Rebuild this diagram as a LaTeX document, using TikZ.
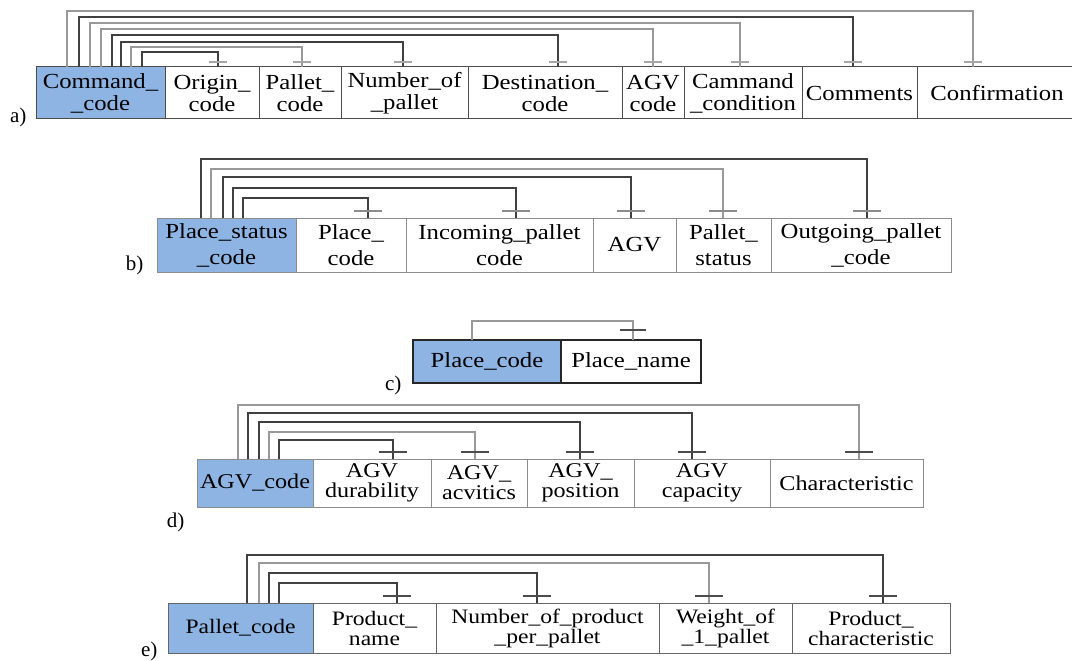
\documentclass[tikz,border=0pt]{standalone}
\usepackage{fontspec}
\setmainfont{Liberation Serif}
\newfontfamily\fieldfont[FakeStretch=1.15]{Liberation Serif}
\usetikzlibrary{positioning}
\definecolor{keyblue}{RGB}{141,180,227}
\begin{document}
\begin{tikzpicture}[x=1pt, y=-1pt,
	fld/.style = {draw=black!70, line width=1pt, inner sep=0pt, outer sep=0pt, align=center},
	key/.style = {fld, fill=keyblue},
	rowa/.style = {minimum height=52, font=\fieldfont\fontsize{21.5}{22}\selectfont},
	rowb/.style = {minimum height=54, font=\fieldfont\fontsize{21.5}{26}\selectfont, draw=black!45},
	rowc/.style = {minimum height=43, font=\fieldfont\fontsize{21.5}{22}\selectfont, draw=black!85, line width=1.6pt},
	rowd/.style = {minimum height=48, font=\fieldfont\fontsize{21}{20}\selectfont, draw=black!45},
	rowe/.style = {minimum height=50, font=\fieldfont\fontsize{20.5}{20}\selectfont, draw=black!60},
	dk/.style = {black!75, line width=1.4pt},
	lt/.style = {black!40, line width=1.4pt},
	tk/.style = {black!70, line width=1.2pt},
	lbl/.style = {anchor=base east, font=\fontsize{21}{21}\selectfont}]
	\useasboundingbox (0,0) rectangle (1072,661);

	% a) command table
	\node[key, rowa, minimum width=129, anchor=north west] (a0) at (36,67) {Command\_\\\_code};
	\node[fld, rowa, minimum width=94, right=0pt of a0] (a1) {Origin\_\\code};
	\node[fld, rowa, minimum width=82, right=0pt of a1] (a2) {Pallet\_\\code};
	\node[fld, rowa, minimum width=127, right=0pt of a2] (a3) {Number\_of\\\_pallet};
	\node[fld, rowa, minimum width=154, right=0pt of a3] (a4) {Destination\_\\code};
	\node[fld, rowa, minimum width=62, right=0pt of a4] (a5) {AGV\\code};
	\node[fld, rowa, minimum width=118, right=0pt of a5] (a6) {Cammand\\\_condition};
	\node[fld, rowa, minimum width=115, right=0pt of a6] (a7) {Comments};
	\node[fld, rowa, minimum width=160, right=0pt of a7] (a8) {Confirmation};
	\foreach \sx/\ly/\ex/\f/\s in {142/52/218/a1/dk, 131/47/302/a2/lt, 121/42/403/a3/dk, 112/35/558/a4/dk,
		101/29/653/a5/lt, 90/23/740/a6/lt, 79/17/853/a7/dk, 67/11/973/a8/lt}{
		\draw[\s] (\sx,0 |- a0.north) |- (\ex,\ly) -- (\ex,0 |- \f.north);
		\draw[tk, black!35] (\ex-9,62) -- ++(18,0);
	}
	\node[lbl] (la) at (30,122) {a)};

	% b) place status table
	\node[key, rowb, minimum width=139, anchor=north west] (b0) at (157,218) {Place\_status\\\_code};
	\node[fld, rowb, minimum width=110, right=0pt of b0] (b1) {Place\_\\code};
	\node[fld, rowb, minimum width=187, right=0pt of b1] (b2) {Incoming\_pallet\\code};
	\node[fld, rowb, minimum width=83, right=0pt of b2] (b3) {AGV};
	\node[fld, rowb, minimum width=95, right=0pt of b3] (b4) {Pallet\_\\status};
	\node[fld, rowb, minimum width=180, right=0pt of b4] (b5) {Outgoing\_pallet\\\_code};
	\foreach \sx/\ly/\ex/\f/\s in {243/198/368/b1/dk, 233/188/516/b2/dk, 223/177/631/b3/dk,
		211/169/723/b4/lt, 201/159/867/b5/dk}{
		\draw[\s] (\sx,0 |- b0.north) |- (\ex,\ly) -- (\ex,0 |- \f.north);
		\draw[tk, black!45] (\ex-14,211) -- ++(28,0);
	}
	\node[lbl] (lb) at (147,270) {b)};

	% c) place table
	\node[key, rowc, minimum width=148, anchor=north west] (c0) at (413,340) {Place\_code};
	\node[fld, rowc, minimum width=140, right=0pt of c0] (c1) {Place\_name};
	\draw[lt] (472,0 |- c0.north) |- (633,321) -- (633,0 |- c1.north);
	\draw[tk] (620,330) -- ++(26,0);
	\node[lbl] (lc) at (405,390) {c)};

	% d) AGV table
	\node[key, rowd, minimum width=116, anchor=north west] (d0) at (197,459) {AGV\_code};
	\node[fld, rowd, minimum width=118, right=0pt of d0] (d1) {AGV\\durability};
	\node[fld, rowd, minimum width=96, right=0pt of d1] (d2) {AGV\_\\acvitics};
	\node[fld, rowd, minimum width=107, right=0pt of d2] (d3) {AGV\_\\position};
	\node[fld, rowd, minimum width=136, right=0pt of d3] (d4) {AGV\\capacity};
	\node[fld, rowd, minimum width=153, right=0pt of d4] (d5) {Characteristic};
	\foreach \sx/\ly/\ex/\f/\s in {279/440/393/d1/dk, 269/432/475/d2/lt, 259/422/580/d3/dk,
		248/413/692/d4/dk, 238/405/859/d5/lt}{
		\draw[\s] (\sx,0 |- d0.north) |- (\ex,\ly) -- (\ex,0 |- \f.north);
		\draw[tk] (\ex-14,452) -- ++(28,0);
	}
	\node[lbl] (ld) at (188,527) {d)};

	% e) pallet table
	\node[key, rowe, minimum width=145, anchor=north west] (e0) at (168,603) {Pallet\_code};
	\node[fld, rowe, minimum width=123, right=0pt of e0] (e1) {Product\_\\name};
	\node[fld, rowe, minimum width=223, right=0pt of e1] (e2) {Number\_of\_product\\\_per\_pallet};
	\node[fld, rowe, minimum width=133, right=0pt of e2] (e3) {Weight\_of\\\_1\_pallet};
	\node[fld, rowe, minimum width=158, right=0pt of e3] (e4) {Product\_\\characteristic};
	\foreach \sx/\ly/\ex/\f/\s in {279/583/397/e1/dk, 269/573/537/e2/dk, 259/563/709/e3/lt, 247/555/883/e4/dk}{
		\draw[\s] (\sx,0 |- e0.north) |- (\ex,\ly) -- (\ex,0 |- \f.north);
		\draw[tk] (\ex-14,596) -- ++(28,0);
	}
	\node[lbl] (le) at (161,656) {e)};
\end{tikzpicture}
\end{document}
